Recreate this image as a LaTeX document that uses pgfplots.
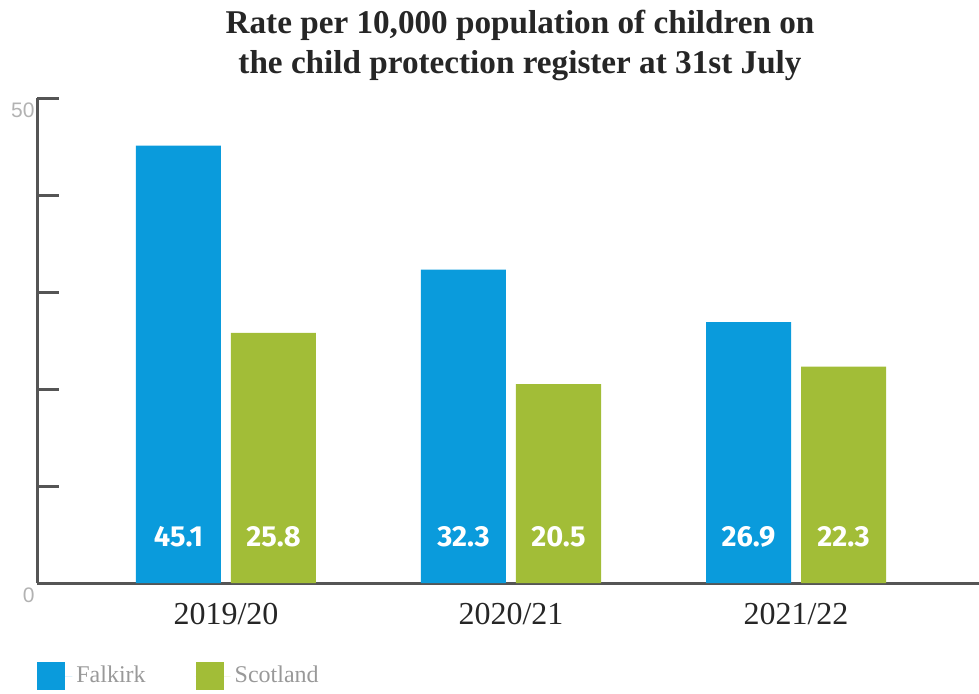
\documentclass[border=0pt]{standalone}
\usepackage{fontspec}
\setmainfont{Liberation Serif}
\newfontfamily\valfont{Fira Sans}
\newfontfamily\tickfont{Liberation Sans}
\usepackage{pgfplots}
\pgfplotsset{compat=1.18}
\definecolor{fblue}{HTML}{0A9BDC}
\definecolor{sgreen}{HTML}{A2BD37}
\definecolor{axgray}{HTML}{555555}
\begin{document}
\begin{tikzpicture}
\useasboundingbox (0,0) rectangle (489.5pt,346.5pt);
\node[font=\bfseries\fontsize{16.6}{20}\selectfont, text=black!85, align=center] at (260pt,324pt)
  {Rate per 10,000 population of children on\\the child protection register at 31st July};
\begin{axis}[
  at={(18.5pt,55pt)}, anchor=south west, scale only axis,
  width=471pt, height=242.5pt,
  xmin=-0.663, xmax=2.642, ymin=0, ymax=50,
  axis x line=bottom, axis y line=left,
  axis line style={-, draw=axgray, line width=1.5pt},
  ytick={0,10,20,30,40,50}, yticklabels={0,,,,,50},
  tick align=inside, major tick length=11pt,
  y tick style={draw=axgray, line width=1.5pt},
  xtick={0,1,2}, xticklabels={2019/20,2020/21,2021/22},
  x tick style={draw=none},
  yticklabel style={font=\tickfont\fontsize{10.5}{12}\selectfont, text=black!30, anchor=north east, inner sep=0pt, xshift=-1pt, yshift=-2pt},
  xticklabel style={font=\fontsize{16}{18}\selectfont, text=black!85, anchor=north, inner sep=0pt, yshift=-10pt},
  legend columns=2,
  legend style={at={(0,-0.192)}, anchor=west, draw=none, fill=none, inner sep=0pt,
    font=\fontsize{12}{14}\selectfont, text=black!40,
    /tikz/every even column/.append style={column sep=23pt}},
  clip=false,
]
\addplot[ybar, bar width=42.5pt, bar shift=-23.75pt, fill=fblue, draw=none,
  legend image code/.code={\fill[fblue] (0pt,-7pt) rectangle (14pt,7pt); \path (0pt,0pt) -- (17.5pt,0pt);}]
  coordinates {(0,45.1) (1,32.3) (2,26.9)};
\addlegendentry{Falkirk}
\addplot[ybar, bar width=42.5pt, bar shift=23.75pt, fill=sgreen, draw=none,
  legend image code/.code={\fill[sgreen] (0pt,-7pt) rectangle (14pt,7pt); \path (0pt,0pt) -- (17.5pt,0pt);}]
  coordinates {(0,25.8) (1,20.5) (2,22.3)};
\addlegendentry{Scotland}
\addplot[draw=none, mark=none, nodes near coords, point meta=explicit symbolic, forget plot,
  every node near coord/.append style={anchor=center, font=\valfont\bfseries\fontsize{14.5}{16}\selectfont, text=white}]
  coordinates {(-0.1667,4.74)[45.1] (0.8333,4.74)[32.3] (1.8333,4.74)[26.9]};
\addplot[draw=none, mark=none, nodes near coords, point meta=explicit symbolic, forget plot,
  every node near coord/.append style={anchor=center, font=\valfont\bfseries\fontsize{14.5}{16}\selectfont, text=white}]
  coordinates {(0.1667,4.74)[25.8] (1.1667,4.74)[20.5] (2.1667,4.74)[22.3]};
\end{axis}
\end{tikzpicture}
\end{document}
